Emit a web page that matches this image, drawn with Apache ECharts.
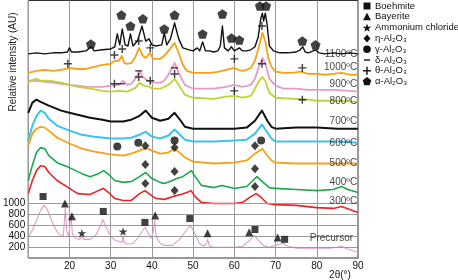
<!DOCTYPE html>
<html><head><meta charset="utf-8">
<script src="https://cdn.jsdelivr.net/npm/echarts@6/dist/echarts.min.js"></script>
<style>html,body{margin:0;padding:0;background:#fff}#c{width:458px;height:280px}</style>
</head><body><div id="c"></div>
<script>
// ---- data ----
const xTickLabels = [20,30,40,50,60,70,80,90];
const yTickLabels = [200,400,600,800,1000];
const curveNames = ['1100ºC','1000ºC','900ºC','800ºC','700ºC','600ºC','500ºC','400ºC','300ºC','Precursor'];
const curveColors = ['#111111','#f7a11a','#e79ac9','#bcd534','#111111','#3ec3ec','#f7a11a','#19a84a','#ec2227','#dd9fc9'];

const s1100 = [[10,3725],[12,3745],[14,3725],[16,3745],[18,3745],[19.5,3760],[20,3835],[20.5,3760],[22,3760],[24,3780],[25.3,3855],[26,3780],[28,3800],[30,3815],[31,3855],[31.6,4090],[32.2,3890],[32.8,4180],[33.5,3890],[34.2,3870],[34.8,4090],[35.4,3870],[36.5,3960],[37.6,4235],[38.5,3960],[39.3,4000],[40,3890],[41,3870],[42.4,3890],[43,4110],[43.6,3890],[44.5,4000],[45.5,4290],[46.5,4000],[47.5,3835],[49,3800],[50,3780],[51,3835],[51.6,3780],[52.3,3945],[53,3780],[54,3780],[55,3760],[56,3780],[56.6,3870],[57.1,4235],[57.6,3835],[58.5,3780],[59.3,3855],[60,3780],[61.2,3835],[62,3780],[63,3780],[64,3800],[65,3855],[65.8,4035],[66.4,4365],[66.8,4470],[67.1,4325],[67.5,4470],[67.9,4290],[68.5,3870],[69.5,3780],[71,3745],[73,3745],[75,3760],[76,3800],[76.6,3855],[77.2,3760],[78,3745],[79.7,3800],[80.5,3745],[82,3725],[84,3745],[86,3725],[88,3745],[90,3725]];
const s1000 = [[10,3380],[12,3415],[14,3435],[16,3415],[18,3435],[20,3470],[22,3450],[24,3450],[26,3490],[28,3525],[30,3545],[31,3600],[32,3600],[32.7,3690],[33.3,3560],[34,3545],[35,3560],[36,3670],[36.9,3835],[37.8,3690],[38.5,3650],[39.5,3745],[40.3,3635],[41,3635],[42,3635],[43,3690],[44,3780],[45.5,3925],[46.5,3745],[47.5,3525],[48.5,3415],[50,3380],[52,3380],[54,3380],[56,3398],[58,3435],[60,3470],[61,3435],[62,3415],[63,3435],[64,3470],[65,3600],[66,3870],[66.8,4110],[67.5,3960],[68.3,3635],[69,3490],[70,3400],[72,3380],[74,3380],[76,3400],[77,3380],[78,3360],[80,3360],[82,3345],[84,3360],[86,3380],[88,3345],[90,3345]];
const s900 = [[10,3235],[12,3235],[14,3215],[16,3200],[18,3180],[20,3160],[22,3145],[24,3125],[26,3125],[28,3125],[30,3145],[32,3160],[33,3235],[34,3160],[35,3180],[36,3270],[37,3415],[37.8,3305],[39,3235],[40,3200],[42,3200],[43,3235],[44,3345],[45.5,3560],[46.5,3380],[48,3160],[50,3090],[52,3090],[55,3090],[58,3125],[60,3160],[62,3125],[64,3160],[65,3270],[66,3505],[66.8,3650],[67.5,3560],[68.5,3270],[70,3145],[72,3090],[75,3090],[78,3070],[80,3070],[84,3070],[88,3050],[90,3035]];
const s800 = [[10,3200],[11,3250],[12,3270],[13,3235],[15,3235],[18,3200],[20,3160],[22,3125],[25,3090],[28,3050],[30,3035],[32,3050],[34,3035],[36,3105],[37,3200],[38,3145],[39.5,3125],[40,3090],[42,3090],[44,3160],[45.5,3270],[46.5,3160],[48,2980],[50,2925],[55,2905],[58,2945],[60,2960],[62,2925],[64,2960],[65,3090],[66,3235],[66.8,3305],[67.5,3235],[68.5,3015],[70,2925],[75,2905],[78,2890],[80,2870],[85,2870],[90,2850]];
const s700 = [[10,2650],[11,2835],[12,2890],[13,2850],[15,2780],[18,2690],[20,2650],[22,2615],[25,2560],[28,2525],[30,2490],[33,2490],[35,2525],[37,2595],[38.5,2690],[40,2560],[42,2505],[44,2540],[45.5,2650],[47,2505],[48,2395],[50,2360],[55,2360],[60,2360],[63,2380],[65,2505],[66.7,2690],[68,2505],[69,2395],[70,2360],[75,2380],[80,2380],[85,2360],[90,2360]];
const s600 = [[10,2145],[11,2415],[12,2595],[13,2690],[14,2650],[15,2540],[17,2415],[20,2325],[23,2250],[26,2215],[30,2180],[33,2180],[35,2195],[37,2250],[38.5,2305],[40,2215],[42,2180],[44,2235],[45.5,2345],[47,2235],[48,2160],[50,2125],[55,2125],[60,2145],[63,2160],[65,2270],[66.7,2435],[68,2290],[69,2180],[70,2125],[75,2125],[80,2125],[85,2125],[90,2105]];
const s500 = [[10,2050],[11,2270],[12,2360],[13,2395],[14,2380],[15,2325],[17,2195],[20,2090],[23,1995],[26,1940],[30,1890],[33,1870],[35,1905],[37,1960],[38.5,2015],[40,1960],[42,1905],[44,1925],[45.5,1995],[47,1905],[48,1835],[50,1760],[55,1725],[60,1740],[63,1780],[65,1905],[66.8,1995],[68,1870],[69,1780],[70,1740],[75,1725],[80,1725],[85,1725],[90,1725]];
const s400 = [[10,1415],[11,1690],[12,1925],[13,2015],[14,1995],[15,1870],[17,1740],[20,1650],[23,1540],[25,1485],[27,1540],[28.3,1595],[29.5,1525],[31,1415],[33,1380],[35,1395],[37,1485],[38.5,1560],[40,1450],[42,1380],[43,1360],[45,1415],[46,1450],[47.5,1485],[49.6,1595],[50.5,1485],[52,1325],[55,1285],[57,1325],[60,1270],[63,1305],[64.5,1415],[65.5,1485],[67,1380],[68.5,1285],[70,1270],[75,1250],[80,1230],[84,1250],[86,1305],[87.5,1250],[90,1195]];
const s300 = [[10,1175],[11,1415],[12,1595],[13,1685],[14,1670],[15,1560],[17,1415],[20,1270],[22,1175],[25,1160],[27,1230],[28.2,1270],[29.5,1195],[31,1085],[33,1050],[35,1050],[37,1175],[38.3,1230],[39.5,1160],[41,1085],[43,1070],[45,1120],[47,1160],[48.5,1195],[49.5,1230],[50.5,1120],[52,1015],[55,995],[58,995],[60,995],[62,1015],[64,1120],[65.3,1175],[66.5,1105],[68,995],[70,975],[75,960],[80,920],[84,905],[86,940],[88,885],[90,830]];
const sPrecursor = [[10,380],[11,505],[12,685],[13,870],[13.8,960],[14.5,905],[15.5,720],[16.5,540],[17.5,430],[18.5,395],[19,905],[19.3,505],[19.8,395],[20.4,775],[20.7,450],[21.5,360],[22.5,340],[23,380],[23.5,340],[25,340],[26.5,430],[27.5,575],[28.1,705],[28.8,575],[30,395],[31,325],[32,305],[32.8,285],[33,415],[33.3,285],[34,250],[35.5,270],[36.5,360],[37.5,470],[38.3,560],[39,470],[39.8,360],[40.3,470],[40.7,685],[41,395],[42,270],[43,230],[45,230],[46.5,325],[48,470],[49.3,595],[50.3,470],[51.5,270],[52.5,215],[53.1,250],[53.5,340],[54,215],[55,195],[58,195],[60,195],[62,215],[63.5,305],[64.8,415],[65.8,325],[67,230],[68.5,195],[70,230],[71.7,270],[73,215],[75,180],[78,180],[80,180],[83,180],[85,195],[86,215],[87.5,160],[90,105]];
const curveData = [s1100,s1000,s900,s800,s700,s600,s500,s400,s300,sPrecursor];
// label anchor (2θ, intensity) for each curve name
const curveLabelPos = [[89.8,3725],[89.8,3490],[89.8,3180],[89.8,2870],[89.8,2490],[89.8,2090],[89.8,1725],[89.8,1377],[89.8,1030],[88.8,360]];

// phase markers [2θ, intensity]
const mBoehmite = [[13.6,1122],[28.2,850],[38.3,650],[49.2,720],[65,520],[72.2,340]];
const mBayerite = [[18.9,995],[20.6,760],[40.8,775],[53.5,450],[63.6,470],[70.5,375]];
const mAmmonium = [[23,450],[33,485]];
const mEta = [[38.4,2050],[38.4,1705],[38.4,1360],[45.5,2015],[45.5,1580],[45.5,1230],[65,2050],[65,1630],[65,1305]];
const mGamma = [[31.6,2035],[36.7,2105],[45.5,2145],[66.5,2145]];
const mDelta = [[36.8,3415],[45.5,3470],[32.6,3180]];
const mTheta = [[19.6,3545],[30.9,3705],[32.8,3815],[36.8,3960],[39.6,3835],[60,3635],[66.7,4235],[76.5,3470],[45.5,3360],[66.7,3545],[30.9,3180],[36.8,3305],[39.6,3235],[60,3050],[76.5,2890]];
const mAlpha = [[25.2,3905],[32.6,4435],[34.8,4235],[37.8,4365],[43,4180],[45.5,4435],[52.3,4090],[57.1,4455],[59.3,4015],[61.2,3980],[66.2,4600],[67.7,4600],[76.5,3960],[79.7,3890]];
const legendNames = ['Boehmite','Bayerite','Ammonium chloride','η-Al₂O₃','γ-Al₂O₃','δ-Al₂O₃','θ-Al₂O₃','α-Al₂O₃'];

// ---- symbols ----
const P_STAR = 'path://M0,-1 L0.2245,-0.309 L0.951,-0.309 L0.363,0.118 L0.588,0.809 L0,0.382 L-0.588,0.809 L-0.363,0.118 L-0.951,-0.309 L-0.2245,-0.309 Z';
const P_PENT = 'path://M0,-1 L0.951,-0.309 L0.588,0.809 L-0.588,0.809 L-0.951,-0.309 Z';
const P_PLUS = 'path://M-0.18,-1 L0.18,-1 L0.18,-0.18 L1,-0.18 L1,0.18 L0.18,0.18 L0.18,1 L-0.18,1 L-0.18,0.18 L-1,0.18 L-1,-0.18 L-0.18,-0.18 Z';
const P_DASH = 'path://M-1,-0.2 L1,-0.2 L1,0.2 L-1,0.2 Z';
const markerDefs = [
  {data:mBoehmite, symbol:'rect', size:7},
  {data:mBayerite, symbol:'triangle', size:8},
  {data:mAmmonium, symbol:P_STAR, size:9},
  {data:mEta, symbol:'diamond', size:[8,9]},
  {data:mGamma, symbol:'circle', size:8},
  {data:mDelta, symbol:P_DASH, size:7},
  {data:mTheta, symbol:P_PLUS, size:8},
  {data:mAlpha, symbol:P_PENT, size:10}
];

const FONT = 'Arial, "Liberation Sans", Helvetica, sans-serif';
const lineWidths = [1.4,1.8,1.8,1.8,2.0,2.0,1.8,1.6,1.6,1.1];
const series = [];
curveData.forEach((d,i)=>{
  series.push({type:'line', name:curveNames[i], data:d, showSymbol:false, symbol:'none',
    lineStyle:{color:curveColors[i], width: lineWidths[i], join:'round'}, z: 3, animation:false,
    markLine: i===9 ? {silent:true, symbol:'none', label:{show:false},
      lineStyle:{color:'#9a9a9a', width:1, type:'solid'},
      data: yTickLabels.map(v=>({yAxis:v}))} : undefined
  });
});
markerDefs.forEach((m,i)=>{
  series.push({type:'scatter', name:legendNames[i], data:m.data, symbol:m.symbol, symbolSize:m.size,
    symbolKeepAspect:true, itemStyle:{color:'#111'}, z:5, animation:false});
});
series.push({type:'scatter', name:'labels', symbolSize:0, z:6, animation:false,
  data: curveLabelPos.map((p,i)=>({value:p, name:curveNames[i]})),
  label:{show:true, position:'left', distance:0, formatter:p=>p.name, color:'#111', fontSize:10, fontFamily:FONT}
});

// legend graphics
function regPoly(cx,cy,r,n,rot){const pts=[];for(let k=0;k<n;k++){const a=rot+k*2*Math.PI/n;pts.push([cx+r*Math.sin(a),cy-r*Math.cos(a)]);}return pts;}
function starPts(cx,cy,r){const pts=[];for(let k=0;k<10;k++){const a=k*Math.PI/5;const rr=k%2?r*0.4:r;pts.push([cx+rr*Math.sin(a),cy-rr*Math.cos(a)]);}return pts;}
const lgX = 367, lgY0 = 6, lgStep = 10.8;
const graphics = [];
legendNames.forEach((nm,i)=>{
  const cy = lgY0 + i*lgStep, cx = lgX;
  const st = {fill:'#111'};
  let g;
  switch(i){
    case 0: g={type:'rect', shape:{x:cx-3.5,y:cy-3.5,width:7,height:7}, style:st}; break;
    case 1: g={type:'polygon', shape:{points:[[cx,cy-4],[cx+4,cy+3.5],[cx-4,cy+3.5]]}, style:st}; break;
    case 2: g={type:'polygon', shape:{points:starPts(cx,cy+0.5,4.5)}, style:st}; break;
    case 3: g={type:'polygon', shape:{points:[[cx,cy-4],[cx+3.5,cy],[cx,cy+4],[cx-3.5,cy]]}, style:st}; break;
    case 4: g={type:'circle', shape:{cx:cx,cy:cy,r:3.8}, style:st}; break;
    case 5: g={type:'rect', shape:{x:cx-3,y:cy-0.7,width:6,height:1.4}, style:st}; break;
    case 6: g={type:'group', children:[{type:'rect',shape:{x:cx-4,y:cy-0.7,width:8,height:1.4},style:st},{type:'rect',shape:{x:cx-0.7,y:cy-4,width:1.4,height:8},style:st}]}; break;
    case 7: g={type:'polygon', shape:{points:regPoly(cx,cy,4.5,5,0)}, style:st}; break;
  }
  graphics.push(g);
  graphics.push({type:'text', x:375, y:cy, style:{text:nm, font:'9.5px '+FONT, fill:'#111', textVerticalAlign:'middle', textAlign:'left'}});
});
graphics.push({type:'text', x:13, y:62, rotation:Math.PI/2,
  style:{text:'Relative intensity (AU)', font:'10px '+FONT, fill:'#222', textAlign:'center', textVerticalAlign:'middle'}});
graphics.push({type:'text', x:340, y:275,
  style:{text:'2θ(°)', font:'10px '+FONT, fill:'#111', textAlign:'center', textVerticalAlign:'middle'}});

const chart = echarts.init(document.getElementById('c'), null, {renderer:'canvas'});
chart.setOption({
  animation:false,
  backgroundColor:'#fff',
  grid:{left:25, right:100, top:0.5, bottom:22, show:true, borderColor:'#333', borderWidth:1, backgroundColor:'transparent'},
  xAxis:{type:'value', min:10, max:90, interval:10,
    axisLine:{show:false}, axisTick:{show:false},
    axisLabel:{color:'#111', fontSize:10, fontFamily:FONT, margin:3,
      formatter:v=> xTickLabels.indexOf(v)>=0 ? String(v) : ''},
    splitLine:{show:true, lineStyle:{color:'#9a9a9a', width:1}}},
  yAxis:{type:'value', min:0, max:4700, interval:200,
    axisLine:{show:false}, axisTick:{show:false},
    axisLabel:{color:'#111', fontSize:10, fontFamily:FONT, margin:3,
      formatter:v=> yTickLabels.indexOf(v)>=0 ? String(v) : ''},
    splitLine:{show:false}},
  graphic:graphics,
  series:series
});
</script></body></html>
